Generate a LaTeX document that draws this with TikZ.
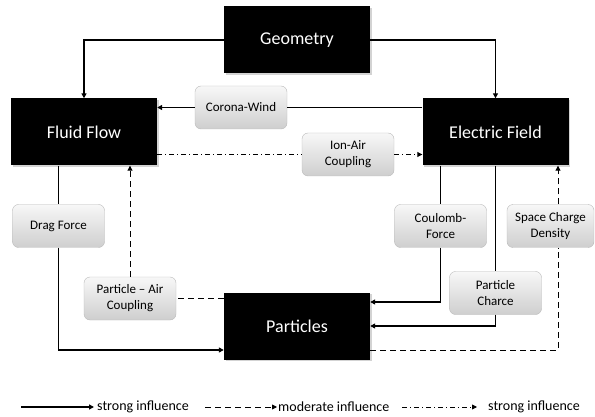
\documentclass[tikz,border=0pt]{standalone}
\usepackage{fontspec}
\setmainfont{Carlito}
\usetikzlibrary{arrows.meta,shadows,calc}
\begin{document}
\begin{tikzpicture}[x=1pt,y=-1pt,
  bigbox/.style={fill=black,text=white,font=\fontsize{18}{20}\selectfont,inner sep=0pt,
    minimum width=146pt,minimum height=67pt,
    drop shadow={opacity=0.35,shadow xshift=1.5pt,shadow yshift=-1.5pt}},
  smallbox/.style={rounded corners=6pt,draw=gray!55,top color=gray!6,bottom color=gray!38,
    font=\fontsize{13}{16}\selectfont,align=center,inner sep=0pt,
    minimum width=92pt,minimum height=43pt},
  tip/.style={-{Triangle[length=5pt,width=5pt]}},
  plainln/.style={line width=1.6pt},
  strongarr/.style={plainln,tip},
  modln/.style={line width=0.9pt,dash pattern=on 6pt off 4pt},
  modarr/.style={modln,tip},
  ddln/.style={line width=0.9pt,dash pattern=on 5pt off 3pt on 1pt off 3pt},
  ddarr/.style={ddln,tip},
  legtext/.style={font=\fontsize{14}{16}\selectfont,anchor=west,inner sep=0pt}]
\useasboundingbox (0,0) rectangle (595,417);

% main boxes
\node[bigbox] (geo) at (297,40) {Geometry};
\node[bigbox] (ff) at (84,132) {Fluid Flow};
\node[bigbox] (ef) at (495.5,132) {Electric Field};
\node[bigbox] (pa) at (297,326) {Particles};

% small boxes
\node[smallbox] (cw) at (241,107.5) {Corona-Wind};
\node[smallbox] (ia) at (348,154.5) {Ion-Air\\Coupling};
\node[smallbox] (df) at (58.5,226) {Drag Force};
\node[smallbox] (pac) at (130,298.5) {Particle -- Air\\Coupling};
\node[smallbox] (cf) at (440.5,226) {Coulomb-\\Force};
\node[smallbox] (pc) at (495.5,293) {Particle\\Charce};
\node[smallbox,minimum width=87pt] (scd) at (550.5,226) {Space Charge\\Density};

% geometry
\draw[strongarr] (geo.west) -| (ff.north);
\draw[strongarr] (geo.east) -| (ef.north);

% corona wind
\draw[plainln] (ef.west |- cw) -- (cw.east);
\draw[strongarr] (cw.west) -- (cw.west -| ff.east);

% ion-air coupling
\draw[ddln] (ff.east |- ia) -- (ia.west);
\draw[ddarr] (ia.east) -- (ia.east -| ef.west);

% drag force
\draw[plainln] (ff.south -| df) -- (df.north);
\draw[strongarr] (df.south) |- ([yshift=-24pt]pa.west);

% particle-air coupling
\draw[modln] (pa.west |- pac) -- (pac.east);
\draw[modarr] (pac.north) -- (pac.north |- ff.south);

% coulomb force
\draw[plainln] (ef.south -| cf) -- (cf.north);
\draw[strongarr] (cf.south) |- ([yshift=24pt]pa.east);

% particle charge
\draw[plainln] (ef.south -| pc) -- (pc.north);
\draw[strongarr] (pc.south) |- (pa.east);

% space charge density
\coordinate (sc) at (558,0);
\draw[modln] ([yshift=-24pt]pa.east) -| (sc |- scd.south);
\draw[modarr] (sc |- scd.north) -- (sc |- ef.south);

% legend
\coordinate (l1a) at (21,407); \coordinate (l1b) at (94,407);
\coordinate (l2a) at (205,407); \coordinate (l2b) at (277,407);
\coordinate (l3a) at (402,407); \coordinate (l3b) at (477,407);
\draw[strongarr] (l1a) -- (l1b);
\node[legtext] (t1) at (97,407) {strong influence};
\draw[modarr] (l2a) -- (l2b);
\node[legtext] (t2) at (278,407) {moderate influence};
\draw[ddarr] (l3a) -- (l3b);
\node[legtext] (t3) at (488,407) {strong influence};
\end{tikzpicture}
\end{document}
